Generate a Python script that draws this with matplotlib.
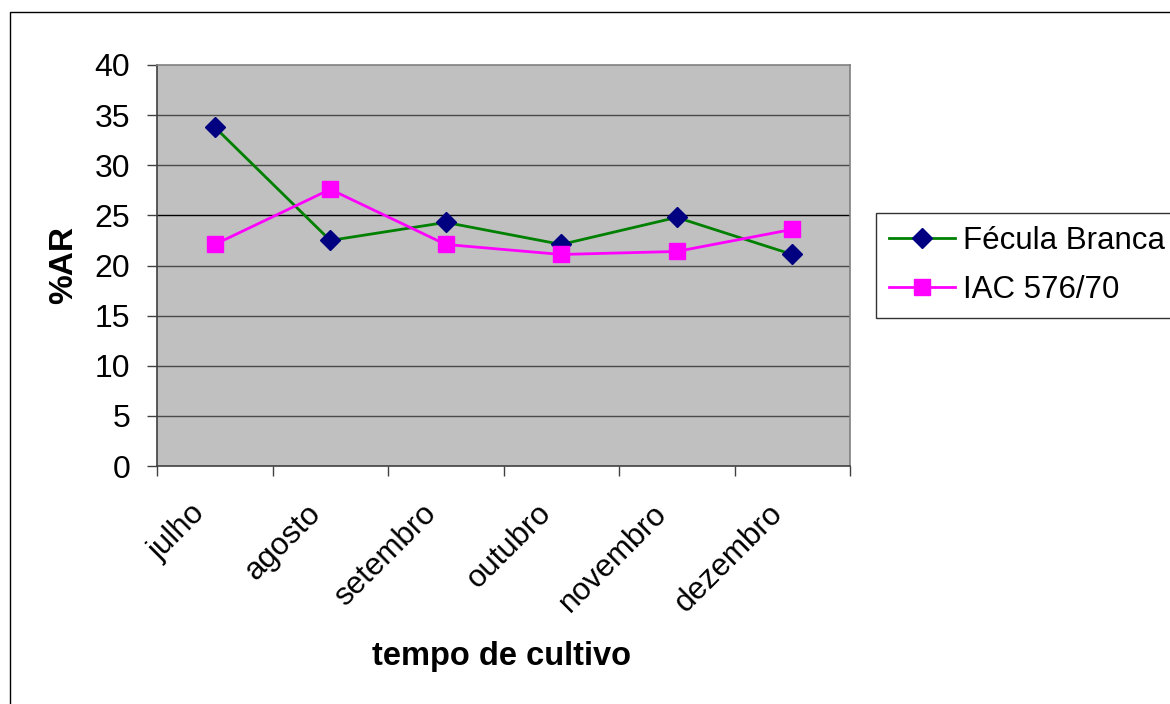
import matplotlib
matplotlib.use("Agg")
import matplotlib.pyplot as plt
from matplotlib.patches import Rectangle
from matplotlib.transforms import ScaledTranslation
import numpy as np

plt.rcParams['font.family'] = ['Liberation Sans', 'DejaVu Sans']

months = ["julho", "agosto", "setembro", "outubro", "novembro", "dezembro"]
fecula = [33.8, 22.5, 24.3, 22.1, 24.8, 21.1]
iac = [22.1, 27.6, 22.1, 21.1, 21.4, 23.6]
yticks = [0, 5, 10, 15, 20, 25, 30, 35, 40]

W, H = 1170, 704
fig = plt.figure(figsize=(W / 100, H / 100), dpi=100)
fig.patch.set_facecolor("white")

# outer chart border (cut off right and bottom)
fig.patches.append(Rectangle((10 / W, -0.2), 2.0, (H - 12) / H + 0.2,
                             transform=fig.transFigure, fill=False,
                             edgecolor="black", linewidth=1.0, zorder=0))

ax = fig.add_axes([157 / W, 1 - 466 / H, (850 - 157) / W, (466 - 65) / H])
ax.set_facecolor("#C0C0C0")

x = np.arange(len(months))
ax.set_xlim(-0.5, len(months) - 0.5)
ax.set_ylim(0, 40)

for yv in yticks[1:-1]:
    ax.axhline(yv, color="black" if yv == 25 else "#4a4a4a", linewidth=1.0, zorder=1)

ax.plot(x, fecula, color="#008000", linewidth=2, marker="D", markersize=10,
        markerfacecolor="#000080", markeredgecolor="#000080", zorder=3,
        label="Fécula Branca")
ax.plot(x, iac, color="#FF00FF", linewidth=2, marker="s", markersize=11,
        markerfacecolor="#FF00FF", markeredgecolor="#FF00FF", zorder=3,
        label="IAC 576/70")

for s in ["top", "right"]:
    ax.spines[s].set_color("#808080")
    ax.spines[s].set_linewidth(1.2)
for s in ["left", "bottom"]:
    ax.spines[s].set_color("#404040")
    ax.spines[s].set_linewidth(1.2)

ax.set_yticks(yticks)
ax.set_yticklabels([str(v) for v in yticks], fontsize=23)
ax.tick_params(axis="y", direction="out", length=7.2, width=1, color="#404040", pad=12)

ax.set_xticks(x)
ax.set_xticklabels(months, fontsize=22.5, rotation=45, ha="right", va="center",
                   rotation_mode="anchor")
ax.tick_params(axis="x", which="major", length=0, pad=31)
off = ScaledTranslation(-14 / 100, 0, fig.dpi_scale_trans)
for lab in ax.get_xticklabels():
    lab.set_transform(lab.get_transform() + off)
ax.set_xticks(np.arange(-0.5, len(months), 1.0), minor=True)
ax.tick_params(axis="x", which="minor", direction="out", length=7.2, width=1,
               color="#404040")

fig.text(64 / W, 1 - 265 / H, "%AR", fontsize=24, fontweight="bold",
         rotation=90, ha="center", va="center")
fig.text(502 / W, 1 - 657 / H, "tempo de cultivo", fontsize=23.5,
         fontweight="bold", ha="center", va="center")

leg = fig.legend(loc="upper left", bbox_to_anchor=(876 / W, 1 - 213 / H),
                 bbox_transform=fig.transFigure, fontsize=22.5, frameon=True,
                 fancybox=False, borderaxespad=0, handlelength=2.1,
                 handletextpad=0.25, borderpad=0.42, labelspacing=0.6)
leg.get_frame().set_edgecolor("black")
leg.get_frame().set_linewidth(1.0)

fig.savefig("out.png", dpi=100, facecolor="white")
